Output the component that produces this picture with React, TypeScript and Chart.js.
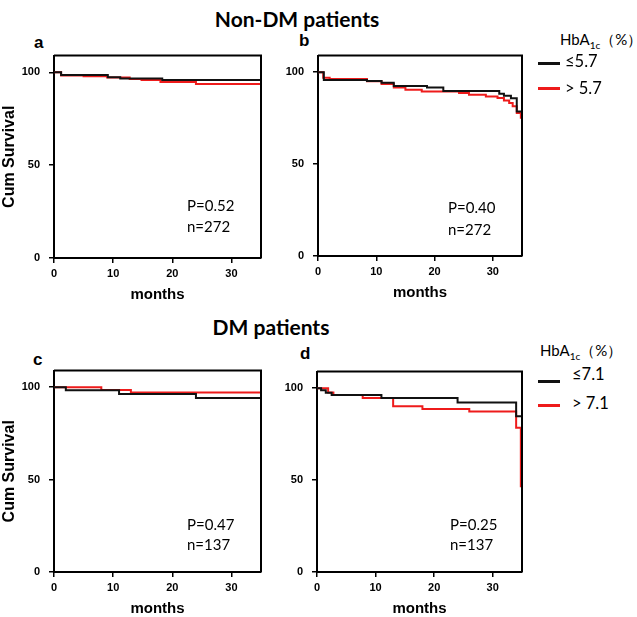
import React, { useEffect, useRef } from 'react';
import { Chart, registerables } from 'chart.js';
Chart.register(...registerables);

const monthTicks = [0, 10, 20, 30];
const survivalTicks = [0, 50, 100];

// Panel a: Non-DM, HbA1c <=5.7 / >5.7
const aLowMonths = [0, 1.2, 9.1, 11.2, 18.3, 35];
const aLowSurv = [100, 98.5, 97.4, 96.7, 95.9, 95.9];
const aHighMonths = [0, 1.2, 5, 9, 12.8, 14.8, 18, 24, 35];
const aHighSurv = [100, 98.3, 97.9, 97.2, 96.4, 95.8, 94.8, 93.7, 93.7];

// Panel b: Non-DM
const bLowMonths = [0, 1, 8.4, 10.9, 13, 18.7, 21.5, 31.1, 31.9, 33.1, 34.1, 35];
const bLowSurv = [100, 95.7, 95.2, 94.3, 92.5, 91.6, 89.8, 88.2, 87.2, 85.8, 78.6, 78.6];
const bHighMonths = [0, 0.9, 2, 8.4, 10.9, 13, 15, 17.8, 24.2, 25.9, 28.8, 30.8, 31.9, 32.8, 33.4, 34.1, 34.8, 35];
const bHighSurv = [100, 97, 96.3, 95, 93.6, 91.6, 90.4, 89.5, 88.6, 87.7, 86.8, 85.9, 84.6, 83.2, 81.4, 77.8, 75.2, 75.2];

// Panel c: DM, HbA1c <=7.1 / >7.1
const cLowMonths = [0, 2, 11, 24, 35];
const cLowSurv = [100, 98.3, 96.4, 94.2, 94.2];
const cHighMonths = [0, 8, 13, 35];
const cHighSurv = [100, 98.5, 97.2, 97.2];

// Panel d: DM
const dLowMonths = [0, 0.7, 1.5, 2.5, 11, 24, 34, 35];
const dLowSurv = [100, 98.8, 97.5, 96.3, 94.6, 92.2, 84.7, 84.7];
const dHighMonths = [0, 1.9, 2.8, 7.8, 13, 18, 26, 34, 34.8, 35];
const dHighSurv = [100, 97.6, 96.3, 94.6, 90.2, 88.6, 87.3, 78.5, 46.7, 46.7];

const BLACK = '#111111';
const RED = '#ee1b1b';
const AXIS_FONT = '"Liberation Sans", Arial, sans-serif';
const TEXT_FONT = 'Lato, "Open Sans", sans-serif';

const boxPlugin = {
  id: 'box',
  afterDatasetsDraw(chart: any) {
    const { ctx, chartArea } = chart;
    const { left, top, right, bottom } = chartArea;
    ctx.save();
    ctx.strokeStyle = '#000';
    ctx.lineWidth = 2;
    ctx.beginPath();
    ctx.moveTo(left, top);
    ctx.lineTo(right, top);
    ctx.lineTo(right, bottom);
    ctx.stroke();
    ctx.restore();
  },
};

type Area = { l: number; t: number; r: number; b: number };

function toXY(months: number[], surv: number[]) {
  return months.map((m, i) => ({ x: m, y: surv[i] }));
}

function KMPanel(props: {
  area: Area;
  lowM: number[];
  lowS: number[];
  highM: number[];
  highS: number[];
  yTitle: boolean;
}) {
  const ref = useRef<HTMLCanvasElement>(null);
  const { area } = props;
  const YW = 54;
  const PT = 12;
  const PR = 10;
  const XH = 46;
  const left = area.l - YW;
  const top = area.t - PT;
  const width = area.r - left + PR;
  const height = area.b - top + XH;

  useEffect(() => {
    const chart = new Chart(ref.current as HTMLCanvasElement, {
      type: 'line',
      data: {
        datasets: [
          {
            label: 'low',
            data: toXY(props.lowM, props.lowS),
            borderColor: BLACK,
            borderWidth: 2,
            stepped: true,
            pointRadius: 0,
            fill: false,
          },
          {
            label: 'high',
            data: toXY(props.highM, props.highS),
            borderColor: RED,
            borderWidth: 2,
            stepped: true,
            pointRadius: 0,
            fill: false,
          },
        ],
      },
      options: {
        animation: false,
        responsive: false,
        maintainAspectRatio: false,
        layout: { padding: { top: PT, right: PR, left: 0, bottom: 0 } },
        plugins: { legend: { display: false }, tooltip: { enabled: false } },
        scales: {
          x: {
            type: 'linear',
            min: 0,
            max: 35,
            afterBuildTicks: (s: any) => {
              s.ticks = monthTicks.map((v) => ({ value: v }));
            },
            afterFit: (s: any) => {
              s.height = XH;
            },
            grid: { drawOnChartArea: false, drawTicks: true, tickLength: 5, color: '#000', lineWidth: 1.5 },
            border: { display: true, color: '#000', width: 2 },
            ticks: { color: '#000', font: { family: AXIS_FONT, weight: 'bold', size: 11 }, padding: 4, maxRotation: 0 },
            title: { display: true, text: 'months', color: '#000', font: { family: AXIS_FONT, weight: 'bold', size: 15 }, padding: 0 },
          },
          y: {
            type: 'linear',
            min: 0,
            max: 109,
            afterBuildTicks: (s: any) => {
              s.ticks = survivalTicks.map((v) => ({ value: v }));
            },
            afterFit: (s: any) => {
              s.width = YW;
            },
            grid: { drawOnChartArea: false, drawTicks: true, tickLength: 5, color: '#000', lineWidth: 1.5 },
            border: { display: true, color: '#000', width: 2 },
            ticks: { color: '#000', font: { family: AXIS_FONT, weight: 'bold', size: 11 }, padding: 9 },
            title: { display: props.yTitle, text: 'Cum Survival', color: '#000', font: { family: AXIS_FONT, weight: 'bold', size: 16 }, padding: 0 },
          },
        },
      } as any,
      plugins: [boxPlugin],
    });
    return () => chart.destroy();
  }, []);

  return (
    <canvas
      ref={ref}
      width={width}
      height={height}
      style={{ position: 'absolute', left, top, width, height }}
    />
  );
}

function T(props: { x: number; y: number; center?: boolean; style?: any; children: any }) {
  return (
    <div
      style={{
        position: 'absolute',
        left: props.x,
        top: props.y,
        transform: props.center ? 'translate(-50%, -50%)' : 'translateY(-50%)',
        whiteSpace: 'nowrap',
        lineHeight: 1,
        color: '#000',
        ...props.style,
      }}
    >
      {props.children}
    </div>
  );
}

const titleStyle = { fontFamily: TEXT_FONT, fontWeight: 'bold', fontSize: 21 };
const letterStyle = { fontFamily: AXIS_FONT, fontWeight: 'bold', fontSize: 17 };
const statStyle = { fontFamily: TEXT_FONT, fontSize: 15 };
const legHeadStyle = { fontFamily: TEXT_FONT, fontSize: 15 };
const legStyle = { fontFamily: TEXT_FONT, fontSize: 16.5 };

function Legend(props: { x: number; y: number; lineX: number; textX: number; y1: number; y2: number; ty1: number; ty2: number; lo: string; hi: string }) {
  return (
    <>
      <T x={props.x} y={props.y} style={legHeadStyle}>
        HbA<sub style={{ fontSize: 10, verticalAlign: -4 }}>1c</sub>（%）
      </T>
      <div style={{ position: 'absolute', left: props.lineX, top: props.y1 - 1.5, width: 22, height: 3, background: BLACK }} />
      <div style={{ position: 'absolute', left: props.lineX, top: props.y2 - 1.5, width: 22, height: 3, background: RED }} />
      <T x={props.textX} y={props.ty1} style={legStyle}>{props.lo}</T>
      <T x={props.textX} y={props.ty2} style={legStyle}>{props.hi}</T>
    </>
  );
}

export default function App() {
  return (
    <div style={{ position: 'fixed', left: 0, top: 0, width: 637, height: 617, overflow: 'hidden', background: '#fff' }}>
      <T x={297} y={18} center style={titleStyle}>Non-DM patients</T>
      <T x={271} y={326} center style={titleStyle}>DM patients</T>

      <T x={34} y={42} style={letterStyle}>a</T>
      <T x={299} y={40} style={letterStyle}>b</T>
      <T x={33} y={359} style={letterStyle}>c</T>
      <T x={300} y={353} style={letterStyle}>d</T>

      <KMPanel area={{ l: 54, t: 52, r: 261, b: 258 }} lowM={aLowMonths} lowS={aLowSurv} highM={aHighMonths} highS={aHighSurv} yTitle={true} />
      <KMPanel area={{ l: 318, t: 52, r: 522, b: 256 }} lowM={bLowMonths} lowS={bLowSurv} highM={bHighMonths} highS={bHighSurv} yTitle={false} />
      <KMPanel area={{ l: 54, t: 367, r: 261, b: 572 }} lowM={cLowMonths} lowS={cLowSurv} highM={cHighMonths} highS={cHighSurv} yTitle={true} />
      <KMPanel area={{ l: 317, t: 368, r: 522, b: 572 }} lowM={dLowMonths} lowS={dLowSurv} highM={dHighMonths} highS={dHighSurv} yTitle={false} />

      <T x={187} y={205} style={statStyle}>P=0.52</T>
      <T x={187} y={226} style={statStyle}>n=272</T>
      <T x={448} y={207} style={statStyle}>P=0.40</T>
      <T x={448} y={229} style={statStyle}>n=272</T>
      <T x={187} y={524} style={statStyle}>P=0.47</T>
      <T x={187} y={544} style={statStyle}>n=137</T>
      <T x={450} y={524} style={statStyle}>P=0.25</T>
      <T x={450} y={544} style={statStyle}>n=137</T>

      <Legend x={560} y={41} lineX={538} textX={565} y1={63} y2={88} ty1={61} ty2={88} lo="≤5.7" hi="> 5.7" />
      <Legend x={540} y={352} lineX={538} textX={572} y1={381} y2={405} ty1={374} ty2={403} lo="≤7.1" hi="> 7.1" />
    </div>
  );
}
